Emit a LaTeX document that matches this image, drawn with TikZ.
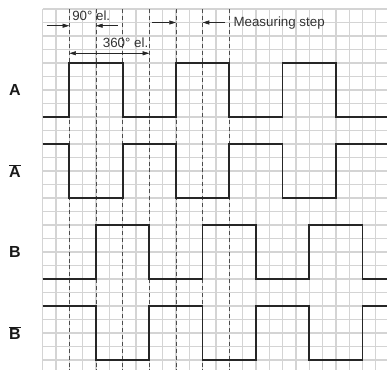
\documentclass[tikz,border=0pt]{standalone}
\usepackage{fontspec}
\setmainfont{Liberation Sans}
\usetikzlibrary{arrows.meta,positioning}
\tikzset{
  gridln/.style ={draw=black!17,line width=0.85pt},
  guide/.style  ={draw=black!70,line width=0.65pt,dash pattern=on 3pt off 2.2pt},
  wave/.style   ={draw=black!85,line width=1.3pt,line join=miter},
  dim/.style    ={->,draw=black!85,line width=0.5pt},
  sig/.style    ={font=\bfseries\fontsize{12}{14}\selectfont,inner sep=0pt,text=black!90},
  dimlab/.style ={font=\fontsize{10}{12}\selectfont,inner sep=1pt,anchor=west,text=black!80},
}

\begin{document}
\begin{tikzpicture}[
  x=10pt, y=10.125pt,
  >={Triangle[length=5pt,width=3pt]},
]
\useasboundingbox (-3.2,0.667) rectangle (25.83,-26.74);
%% grid
\foreach \i in {0,...,25}
  \draw[gridln] (\i,0) -- (\i,-26.74);
\foreach \j in {0,...,26}
  \draw[gridln] (0,-\j) -- (25.83,-\j);
%% guide lines, one every 90 deg el.
\foreach \i in {2,4,...,14}
  \draw[guide] (\i,0) -- (\i,-26.74);
%% signals
\node[sig] (lA)  at (-2.08,-6)  {A};
\node[sig] (lAn) at (-2.08,-12) {$\overline{\mbox{A}}$};
\node[sig] (lB)  at (-2.08,-18) {B};
\node[sig] (lBn) at (-2.08,-24) {$\overline{\mbox{B}}$};
\draw[wave] (0,-8) -| (2,-4) -| (6,-8) -| (10,-4) -| (14,-8)
            -| (18,-4) -| (22,-8) -- (25.83,-8);               % A
\draw[wave] (0,-10) -| (2,-14) -| (6,-10) -| (10,-14) -| (14,-10)
            -| (18,-14) -| (22,-10) -- (25.83,-10);            % A bar
\draw[wave] (0,-20) -| (4,-16) -| (8,-20) -| (12,-16) -| (16,-20)
            -| (20,-16) -| (24,-20) -- (25.83,-20);            % B
\draw[wave] (0,-22) -| (4,-26) -| (8,-22) -| (12,-26) -| (16,-22)
            -| (20,-26) -| (24,-22) -- (25.83,-22);            % B bar
%% 90 deg el.
\coordinate (q0) at (0.3,-1.24);
\coordinate (q1) at (2,-1.24);
\coordinate (q2) at (4,-1.24);
\coordinate (q3) at (5.65,-1.24);
\draw[dim] (q0) -- (q1);
\draw[dim] (q3) -- (q2);
\node[dimlab] (l90) at (2.1,-0.52) {90° el.};
%% 360 deg el.
\coordinate (p0) at (2,-3.28);
\coordinate (p1) at (8,-3.28);
\draw[dim,<->] (p0) -- (p1);
\node[dimlab] (l360) at (4.4,-2.52) {360° el.};
%% measuring step
\coordinate (m0) at (8.2,-1.0);
\coordinate (m1) at (10,-1.0);
\coordinate (m2) at (12,-1.0);
\coordinate (m3) at (13.7,-1.0);
\draw[dim] (m0) -- (m1);
\draw[dim] (m3) -- (m2);
\node[dimlab] (lstep) at (14.2,-1.04) {Measuring step};
\end{tikzpicture}
\end{document}
